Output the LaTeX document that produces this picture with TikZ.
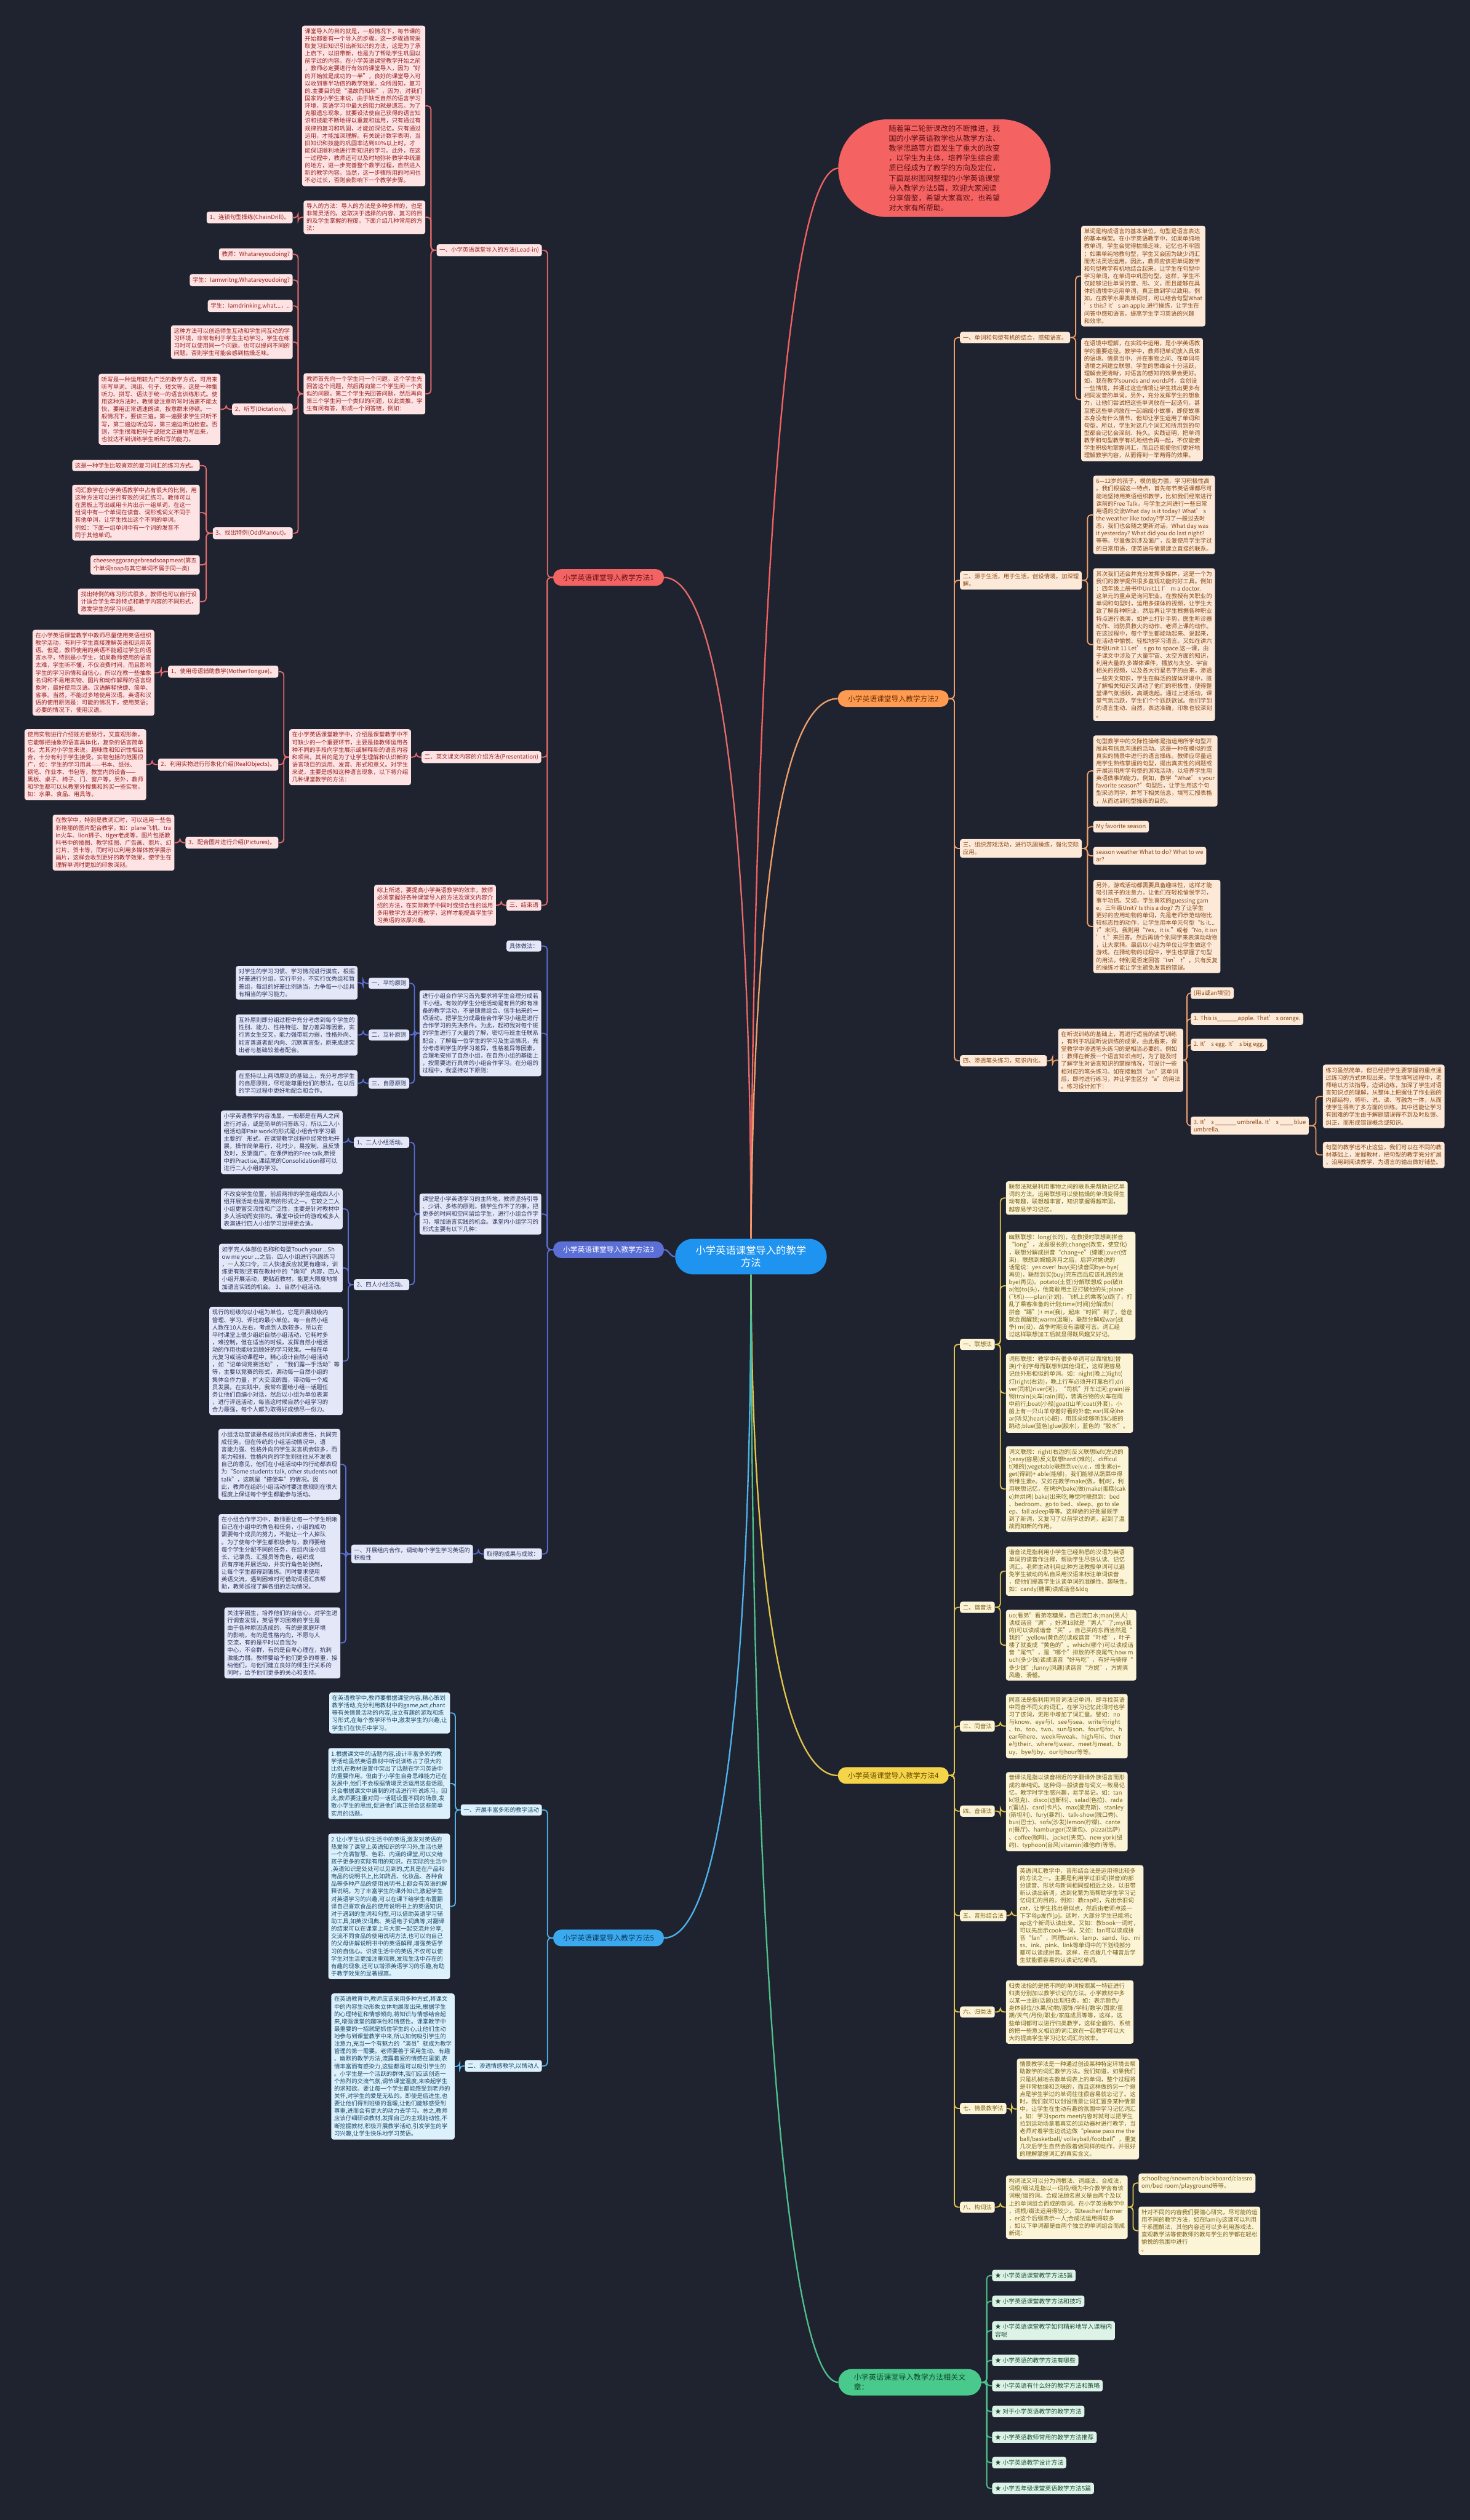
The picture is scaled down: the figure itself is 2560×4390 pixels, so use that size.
\documentclass[tikz,border=0pt]{standalone}
\usepackage{fontspec}
\setmainfont{Noto Sans CJK SC}
\usetikzlibrary{calc}
\definecolor{bg}{HTML}{1F2330}
\definecolor{redN}{HTML}{F26363}\definecolor{redT}{HTML}{6E1313}\definecolor{redL}{HTML}{FDE3E3}\definecolor{redLT}{HTML}{9A2222}\definecolor{redC}{HTML}{E66A6A}
\definecolor{bluN}{HTML}{5B6FD6}\definecolor{bluL}{HTML}{E3E7F7}\definecolor{bluLT}{HTML}{2E3560}\definecolor{bluC}{HTML}{5A6ED4}
\definecolor{cyaN}{HTML}{3AA9EE}\definecolor{cyaT}{HTML}{0E3A5E}\definecolor{cyaL}{HTML}{DCF1FB}\definecolor{cyaLT}{HTML}{1B4B6E}\definecolor{cyaC}{HTML}{4FB3EC}
\definecolor{oraN}{HTML}{FF9B50}\definecolor{oraT}{HTML}{6A2F05}\definecolor{oraL}{HTML}{FCE9D8}\definecolor{oraLT}{HTML}{8B4A17}\definecolor{oraC}{HTML}{EFA06A}
\definecolor{yelN}{HTML}{F6D44A}\definecolor{yelT}{HTML}{6A5200}\definecolor{yelL}{HTML}{FCF4D6}\definecolor{yelLT}{HTML}{7A6218}\definecolor{yelC}{HTML}{E2C54A}
\definecolor{grnN}{HTML}{49C98B}\definecolor{grnT}{HTML}{0F4A2D}\definecolor{grnL}{HTML}{DDF3E7}\definecolor{grnLT}{HTML}{1E4F37}\definecolor{grnC}{HTML}{4EC18B}
\definecolor{ctrN}{HTML}{1E93EF}\definecolor{introN}{HTML}{F46262}\definecolor{introT}{HTML}{5A1111}
\newcommand\fsA{\fontsize{10.1}{13}\selectfont}
\newcommand\fsG{\fontsize{10.6}{13}\selectfont}
\newcommand\fsM{\fontsize{12.6}{15.5}\selectfont}
\newcommand\fsN{\fontsize{13}{17}\selectfont}
\newcommand\fsI{\fontsize{12.9}{17.3}\selectfont}
\newcommand\fsC{\fontsize{17.5}{22}\selectfont}
\newcommand\blank[1]{\rule[-1pt]{#1pt}{0.5pt}}
\newcommand\lk[3]{\draw[#1] let \p1=(#2.west), \p2=(#3.east) in (\p1) -- ({(\x1+\x2)/2},\y1) |- (\p2);}
\newcommand\rk[3]{\draw[#1] let \p1=(#2.east), \p2=(#3.west) in (\p1) -- ({(\x1+\x2)/2},\y1) |- (\p2);}
\tikzset{
 leaf/.style={rounded corners=4pt, inner xsep=5pt, inner ysep=5pt, align=left, font=\fsA},
 rlf/.style={leaf, fill=redL, text=redLT},
 blf/.style={leaf, fill=bluL, text=bluLT},
 clf/.style={leaf, fill=cyaL, text=cyaLT},
 olf/.style={leaf, fill=oraL, text=oraLT},
 ylf/.style={leaf, fill=yelL, text=yelLT},
 glf/.style={leaf, fill=grnL, text=grnLT, font=\fsG},
 mainnode/.style={rounded corners=14pt, inner xsep=12pt, inner ysep=8pt, minimum width=193pt, minimum height=29pt, font=\fsM},
 rcn/.style={draw=redC, line width=2pt, rounded corners=6pt},
 bcn/.style={draw=bluC, line width=2pt, rounded corners=6pt},
 ccn/.style={draw=cyaC, line width=2pt, rounded corners=6pt},
 ocn/.style={draw=oraC, line width=2pt, rounded corners=6pt},
 ycn/.style={draw=yelC, line width=2pt, rounded corners=6pt},
 gcn/.style={draw=grnC, line width=2pt, rounded corners=6pt},
}
\begin{document}
\begin{tikzpicture}[x=1pt,y=-1pt]
\fill[bg] (0,0) rectangle (2560,4390);

% ---------- centre and main nodes ----------
\node[fill=ctrN, text=white, rounded corners=31pt, minimum width=264pt, minimum height=62pt, align=center, font=\fsC] (ctr) at (1308,2189) {小学英语课堂导入的教学\\方法};
\node[fill=introN, text=introT, rounded corners=85pt, minimum width=370pt, minimum height=170pt, align=left, font=\fsI] (intro) at (1645,293) {随着第二轮新课改的不断推进，我\\国的小学英语教学也从教学方法、\\教学思路等方面发生了重大的改变\\，以学生为主体，培养学生综合素\\质已经成为了教学的方向及定位，\\下面是树图网整理的小学英语课堂\\导入教学方法5篇，欢迎大家阅读\\分享借鉴，希望大家喜欢，也希望\\对大家有所帮助。};
\node[mainnode, fill=redN, text=redT] (R) at (1060,1006) {小学英语课堂导入教学方法1};
\node[mainnode, fill=bluN, text=white] (B) at (1060,2177) {小学英语课堂导入教学方法3};
\node[mainnode, fill=cyaN, text=cyaT] (C) at (1060,3376) {小学英语课堂导入教学方法5};
\node[mainnode, fill=oraN, text=oraT] (O) at (1556,1217) {小学英语课堂导入教学方法2};
\node[mainnode, fill=yelN, text=yelT] (Y) at (1556,3093) {小学英语课堂导入教学方法4};
\node[fill=grnN, text=grnT, rounded corners=23pt, minimum width=249pt, minimum height=46pt, inner xsep=24pt, align=left, font=\fsN, anchor=west] (G) at (1460,4150) {小学英语课堂导入教学方法相关文\\章：};

\draw[introN, line width=2.5pt] (intro.west) .. controls (1345,300) and (1310,1500) .. (ctr.north);
\draw[redC, line width=2.5pt] (R.east) .. controls (1260,1006) and (1308,1500) .. (ctr.north);
\draw[oraC, line width=2.5pt] (O.west) .. controls (1370,1217) and (1314,1500) .. (ctr.north);
\draw[bluC, line width=2.5pt] (B.east) .. controls (1166,2177) and (1166,2189) .. (ctr.west);
\draw[cyaC, line width=2.5pt] (ctr.south) .. controls (1308,2900) and (1260,3376) .. (C.east);
\draw[yelC, line width=2.5pt] (ctr.south) .. controls (1310,2800) and (1370,3093) .. (Y.west);
\draw[grnC, line width=2.5pt] (ctr.south) .. controls (1310,3500) and (1380,4150) .. (G.west);

% ---------- RED branch ----------
\node[rlf, anchor=east] (r1) at (944,436) {一、小学英语课堂导入的方法(Lead-in)};
\node[rlf, anchor=east] (r1a) at (741,184.5) {课堂导入的目的就是，一般情况下，每节课的\\开始都要有一个导入的步骤。这一步骤通常采\\取复习旧知识引出新知识的方法，这是为了承\\上启下，以旧带新，也是为了帮助学生巩固以\\前学过的内容。在小学英语课堂教学开始之前\\，教师必定要进行有效的课堂导入，因为“好\\的开始就是成功的一半”，良好的课堂导入可\\以收到事半功倍的教学效果。众所周知，复习\\的.主要目的是“温故而知新”，因为，对我们\\国家的小学生来说，由于缺乏自然的语言学习\\环境，英语学习中最大的阻力就是遗忘。为了\\克服遗忘现象，就要设法使自己获得的语言知\\识和技能不断地得以重复和运用，只有通过有\\规律的复习和巩固，才能加深记忆。只有通过\\运用，才能加深理解。有关统计数字表明，当\\旧知识和技能的巩固率达到80\%以上时，才\\能保证顺利地进行新知识的学习。此外，在这\\一过程中，教师还可以及时地弥补教学中疏漏\\的地方，进一步完善整个教学过程，自然进入\\新的教学内容。当然，这一步骤所用的时间也\\不必过长，否则会影响下一个教学步骤。};
\node[rlf, anchor=east] (r1b) at (741,378.5) {导入的方法：导入的方法是多种多样的，也是\\非常灵活的。这取决于选择的内容、复习的目\\的及学生掌握的程度。下面介绍几种常用的方\\法：};
\node[rlf, anchor=east] (r1c) at (741,686) {教师首先向一个学生问一个问题，这个学生先\\回答这个问题，然后再向第二个学生问一个类\\似的问题。第二个学生先回答问题，然后再向\\第三个学生问一个类似的问题，以此类推，学\\生有问有答，形成一个问答链，例如：};
\node[rlf, anchor=east] (r1b1) at (510,379) {1、连锁句型操练(ChainDrill)。};
\node[rlf, anchor=east] (r1c1) at (510,443) {教师：Whatareyoudoing?};
\node[rlf, anchor=east] (r1c2) at (510,488) {学生：Iamwritng.Whatareyoudoing?};
\node[rlf, anchor=east] (r1c3) at (510,533) {学生：Iamdrinking.what...，..};
\node[rlf, anchor=east] (r1c4) at (510,596) {这种方法可以创造师生互动和学生间互动的学\\习环境，非常有利于学生主动学习，学生在练\\习时可以使用同一个问题，也可以提问不同的\\问题。否则学生可能会感到枯燥乏味。};
\node[rlf, anchor=east] (r1c5) at (510,713) {2、听写(Dictation)。};
\node[rlf, anchor=east] (r1c5a) at (384,713) {听写是一种运用较为广泛的教学方式，可用来\\听写单词、词组、句子、短文等。这是一种集\\听力、拼写、语法于统一的语言训练形式。使\\用这种方法时，教师要注意听写时语速不能太\\快，要用正常语速朗读，按意群来停顿。一\\般情况下，要读三遍，第一遍要求学生只听不\\写，第二遍边听边写，第三遍边听边检查。否\\则，学生很难把句子或短文正确地写出来，\\也就达不到训练学生听和写的能力。};
\node[rlf, anchor=east] (r1c6) at (510,929) {3、找出特例(OddManout)。};
\node[rlf, anchor=east] (r1c6a) at (348,811) {这是一种学生比较喜欢的复习词汇的练习方式。};
\node[rlf, anchor=east] (r1c6b) at (348,893) {词汇教学在小学英语教学中占有很大的比例，用\\这种方法可以进行有效的词汇练习。教师可以\\在黑板上写出或用卡片出示一组单词，在这一\\组词中有一个单词在读音、词形或词义不同于\\其他单词，让学生找出这个不同的单词。\\例如：下面一组单词中有一个词的发音不\\同于其他单词。};
\node[rlf, anchor=east] (r1c6c) at (348,984) {cheeseeggorangebreadsoapmeat(第五\\个单词soap与其它单词不属于同一类)};
\node[rlf, anchor=east] (r1c6d) at (348,1048) {找出特例的练习形式很多，教师也可以自行设\\计适合学生年龄特点和教学内容的不同形式，\\激发学生的学习兴趣。};
\node[rlf, anchor=east] (r2) at (943,1319) {二、英文课文内容的介绍方法(Presentation)};
\node[rlf, anchor=east] (r2a) at (716,1319) {在小学英语课堂教学中，介绍是课堂教学中不\\可缺少的一个重要环节，主要是指教师运用各\\种不同的手段向学生展示或解释新的语言内容\\和项目。其目的是为了让学生理解和认识新的\\语言项目的运用、发音、形式和意义。对学生\\来说，主要是感知这种语言现象，以下将介绍\\几种课堂教学的方法：};
\node[rlf, anchor=east] (r2a1) at (485,1170) {1、使用母语辅助教学(MotherTongue)。};
\node[rlf, anchor=east] (r2a1a) at (269,1172) {在小学英语课堂教学中教师尽量使用英语组织\\教学活动，有利于学生直接理解英语和运用英\\语。但是，教师使用的英语不能超过学生的语\\言水平，特别是小学生，如果教师使用的语言\\太难，学生听不懂，不仅浪费时间，而且影响\\学生的学习热情和自信心。所以在教一些抽象\\名词和不易用实物、图片和动作解释的语言现\\象时，最好使用汉语。汉语解释快捷、简单、\\省事。当然，不能过多地使用汉语。英语和汉\\语的使用原则是：可能的情况下，使用英语；\\必要的情况下，使用汉语。};
\node[rlf, anchor=east] (r2a2) at (485,1332) {2、利用实物进行形象化介绍(RealObjects)。};
\node[rlf, anchor=east] (r2a2a) at (255,1332) {使用实物进行介绍既方便易行，又直观形象，\\它能够把抽象的语言具体化，复杂的语言简单\\化。尤其对小学生来说，趣味性和知识性相结\\合，十分有利于学生接受。实物包括的范围很\\广，如：学生的学习用具——书本、纸张、\\钢笔、作业本、书包等，教室内的设备——\\黑板、桌子、椅子、门、窗户等。另外，教师\\和学生都可以从教室外搜集和购买一些实物，\\如：水果、食品、用具等。};
\node[rlf, anchor=east] (r2a3) at (485,1468) {3、配合图片进行介绍(Pictures)。};
\node[rlf, anchor=east] (r2a3a) at (304,1468) {在教学中，特别是教词汇时，可以选用一些色\\彩艳丽的图片配合教学，如：plane飞机、tra\\in火车、lion狮子、tiger老虎等，图片包括教\\科书中的插图、教学挂图、广告画、照片、幻\\灯片、贺卡等，同时可以利用多媒体教学展示\\画片，这样会收到更好的教学效果，使学生在\\理解单词时更加的印象深刻。};
\node[rlf, anchor=east] (r3) at (943,1577) {三、结束语};
\node[rlf, anchor=east] (r3a) at (864,1577) {综上所述，要提高小学英语教学的效率，教师\\必须掌握好各种课堂导入的方法及课文内容介\\绍的方法，在实际教学中同时或综合性的运用\\多用教学方法进行教学，这样才能提高学生学\\习英语的浓厚兴趣。};

\lk{rcn}{R}{r1}\lk{rcn}{R}{r2}\lk{rcn}{R}{r3}
\lk{rcn}{r1}{r1a}\lk{rcn}{r1}{r1b}\lk{rcn}{r1}{r1c}
\lk{rcn}{r1b}{r1b1}
\lk{rcn}{r1c}{r1c1}\lk{rcn}{r1c}{r1c2}\lk{rcn}{r1c}{r1c3}\lk{rcn}{r1c}{r1c4}\lk{rcn}{r1c}{r1c5}\lk{rcn}{r1c}{r1c6}
\lk{rcn}{r1c5}{r1c5a}
\lk{rcn}{r1c6}{r1c6a}\lk{rcn}{r1c6}{r1c6b}\lk{rcn}{r1c6}{r1c6c}\lk{rcn}{r1c6}{r1c6d}
\lk{rcn}{r2}{r2a}
\lk{rcn}{r2a}{r2a1}\lk{rcn}{r2a}{r2a2}\lk{rcn}{r2a}{r2a3}
\lk{rcn}{r2a1}{r2a1a}\lk{rcn}{r2a2}{r2a2a}\lk{rcn}{r2a3}{r2a3a}
\lk{rcn}{r3}{r3a}

% ---------- BLUE branch ----------
\node[blf, anchor=east] (b1) at (943,1648) {具体做法：};
\node[blf, anchor=east] (b2) at (943,1800) {进行小组合作学习首先要求将学生合理分成若\\干小组。有效的学生分组活动是有目的和有准\\备的教学活动，不是随意组合、信手拈来的一\\项活动。把学生分成最佳合作学习小组是进行\\合作学习的先决条件。为此，起初我对每个班\\的学生进行了大量的了解，密切与班主任联系\\配合，了解每一位学生的学习及生活情况，充\\分考虑到学生的学习差异，性格差异等因素，\\合理地安排了自然小组，在自然小组的基础上\\，按需要进行具体的小组合作学习。在分组的\\过程中，我坚持以下原则：};
\node[blf, anchor=east] (b2a) at (713,1713) {一、平均原则};
\node[blf, anchor=east] (b2a1) at (623,1712) {对学生的学习习惯、学习情况进行摸底，根据\\好差进行分组，实行平分，不实行优秀组和暂\\差组，每组的好差比例适当，力争每一小组具\\有相当的学习能力。};
\node[blf, anchor=east] (b2b) at (713,1803) {二、互补原则};
\node[blf, anchor=east] (b2b1) at (623,1803) {互补原则即分组过程中充分考虑到每个学生的\\性别、能力、性格特征、智力差异等因素，实\\行男女生交叉，能力强带能力弱，性格外向、\\能言善道者配内向、沉默寡言型，原来成绩突\\出者与基础较差者配合。};
\node[blf, anchor=east] (b2c) at (713,1887) {三、自愿原则};
\node[blf, anchor=east] (b2c1) at (623,1887) {在坚持以上两项原则的基础上，充分考虑学生\\的自愿原则，尽可能尊重他们的想法，在以后\\的学习过程中更好地配合和合作。};
\node[blf, anchor=east] (b3) at (943,2115) {课堂是小学英语学习的主阵地，教师坚持引导\\、少讲、多练的原则，做学生作不了的事，把\\更多的时间和空间留给学生，进行小组合作学\\习，增加语言实践的机会。课堂内小组学习的\\形式主要有以下几种：};
\node[blf, anchor=east] (b3a) at (713,1990) {1、二人小组活动。};
\node[blf, anchor=east] (b3a1) at (597,1990) {小学英语教学内容浅显，一般都是在两人之间\\进行对话，或是简单的问答练习，所以二人小\\组活动即Pair work的形式是小组合作学习最\\主要的'形式，在课堂教学过程中经常性地开\\展，操作简单易行，花时少，易控制，且反馈\\及时，反馈面广。在课伊始的Free talk,新授\\中的Practise,课结尾的Consolidation都可以\\进行二人小组的学习。};
\node[blf, anchor=east] (b3b) at (713,2238) {2、四人小组活动。};
\node[blf, anchor=east] (b3b1) at (597,2106) {不改变学生位置，前后两排的学生组成四人小\\组开展活动也是常用的形式之一。它较之二人\\小组更富交流性和广泛性，主要是针对教材中\\多人活动而安排的。课堂中设计的游戏或多人\\表演进行四人小组学习显得更合适。};
\node[blf, anchor=east] (b3b2) at (597,2209) {如学完人体部位名称和句型Touch your ...Sh\\ow me your ...之后，四人小组进行巩固练习\\，一人发口令，三人快速反应就更有趣味，训\\练更有效!还有在教材中的“询问”内容，四人\\小组开展活动，更贴近教材，能更大限度地增\\加语言实践的机会。 3、自然小组活动。};
\node[blf, anchor=east] (b3b3) at (597,2371) {现行的班级均以小组为单位，它是开展班级内\\管理、学习、评比的最小单位。每一自然小组\\人数在10人左右，考虑到人数较多，所以在\\平时课堂上很少组织自然小组活动，它耗时多\\，难控制，但在适当的时候，发挥自然小组活\\动的作用也能收到顾好的学习效果。一般在单\\元复习或活动课程中，精心设计自然小组活动\\，如“记单词竞赛活动”，“我们露一手活动”等\\等，主要以竞赛的形式，调动每一自然小组的\\集体合作力量，扩大交流的面，带动每一个成\\员发展。在实践中，我常布置给小组一话题任\\务让他们自编小对话，然后以小组为单位表演\\，进行评选活动，每当这时候自然小组学习的\\合力最强，每个人都为取得好成绩尽一份力。};
\node[blf, anchor=east] (b4) at (944,2707) {取得的成果与成效：};
\node[blf, anchor=east] (b4a) at (824,2707) {一、开展组内合作，调动每个学生学习英语的\\积极性};
\node[blf, anchor=east] (b4a1) at (593,2551) {小组活动宣读是各成员共同承担责任，共同完\\成任务。但在传统的小组活动情况中，语\\言能力强、性格外向的学生发言机会较多，而\\能力较弱、性格内向的学生则往往从不发表\\自己的意见，他们在小组活动中的行动都表现\\为“Some students talk, other students not\\talk”，这就是“搭便车”的情况。因\\此，教师在组织小组活动时要注意规则在很大\\程度上保证每个学生都能参与活动。};
\node[blf, anchor=east] (b4a2) at (593,2706) {在小组合作学习中，教师要让每一个学生明晰\\自己在小组中的角色和任务，小组的成功\\需要每个成员的努力，不能让一个人掉队\\。为了使每个学生都积极参与，教师要给\\每个学生分配不同的任务，在组内设小组\\长、记录员、汇报员等角色，组织成\\员有序地开展活动，并实行角色轮换制，\\让每个学生都得到锻炼。同时要求使用\\英语交流，遇到困难时可借助词语汇表帮\\助，教师巡视了解各组的活动情况。};
\node[blf, anchor=east] (b4a3) at (593,2862) {关注学困生，培养他们的自信心。对学生进\\行调查发现，英语学习困难的学生是\\由于各种原因造成的，有的是家庭环境\\的影响，有的是性格内向，不愿与人\\交流，有的是平时以自我为\\中心，不合群，有的是自卑心理在，抗刺\\激能力弱。教师要给予他们更多的尊重，接\\纳他们，与他们建立良好的师生行关系的\\同时，给予他们更多的关心和支持。};

\lk{bcn}{B}{b1}\lk{bcn}{B}{b2}\lk{bcn}{B}{b3}\lk{bcn}{B}{b4}
\lk{bcn}{b2}{b2a}\lk{bcn}{b2}{b2b}\lk{bcn}{b2}{b2c}
\lk{bcn}{b2a}{b2a1}\lk{bcn}{b2b}{b2b1}\lk{bcn}{b2c}{b2c1}
\lk{bcn}{b3}{b3a}\lk{bcn}{b3}{b3b}
\lk{bcn}{b3a}{b3a1}
\lk{bcn}{b3b}{b3b1}\lk{bcn}{b3b}{b3b2}\lk{bcn}{b3b}{b3b3}
\lk{bcn}{b4}{b4a}
\lk{bcn}{b4a}{b4a1}\lk{bcn}{b4a}{b4a2}\lk{bcn}{b4a}{b4a3}

% ---------- CYAN branch ----------
\node[clf, anchor=east] (c1) at (944,3153) {一、开展丰富多彩的教学活动};
\node[clf, anchor=east] (c1a) at (784,2984) {在英语教学中,教师要根据课堂内容,精心策划\\教学活动,充分利用教材中的game,act,chant\\等有关情景活动的内容,设立有趣的游戏和练\\习形式,在每个教学环节中,激发学生的兴趣,让\\学生们在快乐中学习。};
\node[clf, anchor=east] (c1b) at (784,3107) {1.根据课文中的话题内容,设计丰富多彩的教\\学活动虽然英语教材中听说训练占了很大的\\比例,在教材设置中突出了话题在学习英语中\\的重要作用。但由于小学生自身思维能力还在\\发展中,他们不会根据情境灵活运用这些话题,\\只会根据课文中编制的对话进行听说练习。因\\此,教师要注重对同一话题设置不同的场景,发\\散小学生的思维,促进他们真正领会这些简单\\实用的话题。};
\node[clf, anchor=east] (c1c) at (784,3321) {2.让小学生认识生活中的英语,激发对英语的\\热爱除了课堂上英语知识的学习外,生活也是\\一个充满智慧、色彩、内涵的课堂,可以交给\\孩子更多的实际有用的知识。在实际的生活中\\,英语知识是处处可以见到的,尤其是在产品和\\商品的说明书上,比如药品、化妆品、各种食\\品等多种产品的使用说明书上都会有英语的解\\释说明。为了丰富学生的课外知识,激起学生\\对英语学习的兴趣,可以在课下给学生布置翻\\译自己喜欢食品的使用说明书上的英语知识,\\对于遇到的生词和句型,可以借助英语学习辅\\助工具,如英汉词典、英语电子词典等,对翻译\\的结果可以在课堂上与大家一起交流并分享,\\交流不同食品的使用说明方法,也可以向自己\\的父母讲解说明书中的英语解释,增强英语学\\习的自信心。识读生活中的英语,不仅可以使\\学生对生活更加注重观察,发现生活中存在的\\有趣的现象,还可以增添英语学习的乐趣,有助\\于教学效果的显著提高。};
\node[clf, anchor=east] (c2) at (944,3599) {二、渗透情感教学,以情动人};
\node[clf, anchor=east] (c2a) at (792,3600) {在英语教育中,教师应该采用多种方式,将课文\\中的内容生动形象立体地展现出来,根据学生\\的心理特征和情感倾向,将知识与情感结合起\\来,增强课堂的趣味性和情感性。课堂教学中\\最重要的一招就是抓住学生的心,让他们主动\\地参与到课堂教学中来,所以如何吸引学生的\\注意力,充当一个有魅力的“演员”就成为教学\\管理的第一需要。老师要善于采用生动、有趣\\、幽默的教学方法,流露着爱的情感在里面,表\\情丰富而有感染力,这些都是可以吸引学生的\\。小学生是一个活跃的群体,我们应该创造一\\个热烈的交流气氛,调节课堂温度,来唤起学生\\的求知欲。要让每一个学生都能感受到老师的\\关怀,对学生的爱是无私的。即使是后进生,也\\要让他们得到班级的温暖,让他们能够感受到\\尊重,进而会有更大的动力去学习。总之,教师\\应该仔细研读教材,发挥自己的主观能动性,不\\断挖掘教材,积极开展教学活动,引发学生的学\\习兴趣,让学生快乐地学习英语。};
\lk{ccn}{C}{c1}\lk{ccn}{C}{c2}
\lk{ccn}{c1}{c1a}\lk{ccn}{c1}{c1b}\lk{ccn}{c1}{c1c}
\lk{ccn}{c2}{c2a}

% ---------- ORANGE branch ----------
\node[olf, anchor=west] (o1) at (1672,588) {一、单词和句型有机的结合，感知语言。};
\node[olf, anchor=west] (o1a) at (1883,481) {单词是构成语言的基本单位，句型是语言表达\\的基本框架。在小学英语教学中，如果单纯地\\教单词，学生会觉得枯燥乏味，记忆也不牢固\\；如果单纯地教句型，学生又会因为缺少词汇\\而无法灵活运用。因此，教师应该把单词教学\\和句型教学有机地结合起来，让学生在句型中\\学习单词，在单词中巩固句型。这样，学生不\\仅能够记住单词的音、形、义，而且能够在具\\体的语境中运用单词，真正做到学以致用。例\\如，在教学水果类单词时，可以结合句型What\\’s this? It’s an apple.进行操练，让学生在\\问答中感知语言，提高学生学习英语的兴趣\\和效率。};
\node[olf, anchor=west] (o1b) at (1883,696) {在语境中理解，在实践中运用，是小学英语教\\学的重要途径。教学中，教师把单词放入具体\\的语境、情景当中，并在事物之间、在单词与\\语境之间建立联想，学生的思维会十分活跃，\\理解会更清晰，对语言的感知的效果会更好。\\如，我在教学sounds and words时，会创设\\一些情境，并通过这些情境让学生找出更多有\\相同发音的单词。另外，充分发挥学生的想象\\力，让他们尝试把这些单词放在一起造句，甚\\至把这些单词放在一起编成小故事，即使故事\\本身没有什么情节，但却让学生运用了单词和\\句型。所以，学生对这几个词汇和所用到的句\\型都会记忆会深刻、持久。实践证明，把单词\\教学和句型教学有机地结合再一起，不仅能使\\学生积极地掌握词汇，而且还能使他们更好地\\理解教学内容，从而得到一举两得的效果。};
\node[olf, anchor=west] (o2) at (1672,1011) {二、源于生活，用于生活，创设情境，加深理\\解。};
\node[olf, anchor=west] (o2a) at (1904,897) {6—12岁的孩子，模仿能力强，学习积极性高\\。我们根据这一特点，首先每节英语课都尽可\\能地坚持用英语组织教学，比如我们经常进行\\课前的Free Talk，与学生之间进行一些日常\\用语的交流What day is it today? What’ s\\the weather like today?学习了一般过去时\\态，我们也会随之更新对话，What day was\\it yesterday? What did you do last night?\\等等。尽量做到涉及面广，反复使用学生学过\\的日常用语，使英语与情景建立直接的联系。};
\node[olf, anchor=west] (o2b) at (1904,1123) {其次我们还会并充分发挥多媒体，这是一个为\\我们的教学提供很多直观功能的好工具。例如\\：四年级上册书中Unit11 I’ m a doctor.\\这单元的重点是询问职业。在教授有关职业的\\单词和句型时，运用多媒体的视频，让学生大\\致了解各种职业，然后再让学生根据各种职业\\特点进行表演，如护士打针手势，医生听诊器\\动作、消防员救火的动作、老师上课的动作。\\在这过程中，每个学生都能动起来、说起来，\\在活动中愉悦、轻松地学习语言。又如在讲六\\年级Unit 11 Let’ s go to space.这一课，由\\于课文中涉及了大量宇宙、太空方面的知识，\\利用大量的.多媒体课件，播放与太空、宇宙\\相关的视频，以及各大行星名字的由来，渗透\\一些天文知识，学生在鲜活的媒体环境中，既\\了解相关知识又调动了他们的积极性，使得整\\堂课气氛活跃，高潮迭起。通过上述活动，课\\堂气氛活跃，学生们个个跃跃欲试。他们学到\\的语言生动、自然，表达准确，印象也较深刻\\。};
\node[olf, anchor=west] (o3) at (1672,1478) {三、组织游戏活动，进行巩固操练，强化交际\\应用。};
\node[olf, anchor=west] (o3a) at (1904,1343) {句型教学中的交际性操练是指运用所学句型开\\展具有信息沟通的活动。这是一种在模拟的或\\真实的情景中进行的语言操练。教师应尽量运\\用学生熟练掌握的句型，提出真实性的问题或\\开展运用所学句型的游戏活动，以培养学生用\\英语做事的能力。例如，教学“What’ s your\\favorite season?”句型后，让学生用这个句\\型采访同学，并写下相关信息，填写汇报表格\\，从而达到句型操练的目的。};
\node[olf, anchor=west] (o3b) at (1904,1440) {My favorite season};
\node[olf, anchor=west] (o3c) at (1904,1491) {season weather What to do? What to we\\ar?};
\node[olf, anchor=west] (o3d) at (1904,1614) {另外，游戏活动都需要具备趣味性，这样才能\\吸引孩子的注意力，让他们在轻松愉悦学习，\\事半功倍。又如，学生喜欢的guessing gam\\e。三年级Unit7 Is this a dog? 为了让学生\\更好的应用动物的单词，先是老师示范动物比\\较标志性的动作，让学生用本单元句型“Is it...\\?”来问。我则用“Yes，it is.”或者“No, it isn\\’ t.”来回答。然后再请个别同学来表演动动物\\，让大家猜。最后以小组为单位让学生做这个\\游戏。在猜动物的过程中，学生也掌握了句型\\的用法。特别是否定回答“isn’ t”，只有反复\\的操练才能让学生避免发音的错误。};
\node[olf, anchor=west] (o4) at (1672,1848) {四、渗透笔头练习，知识内化。};
\node[olf, anchor=west] (o4a) at (1843,1847) {在听说训练的基础上，再进行适当的读写训练\\，有利于巩固听说训练的成果，由此看来，课\\堂教学中渗透笔头练习的是相当必要的。例如\\：教师在新授一个语言知识点时，为了能及时\\了解学生对语言知识的掌握情况，可设计一些\\相对应的笔头练习。如在接触到“an”这单词\\后，即时进行练习，并让学生区分“a”的用法\\。练习设计如下：};
\node[olf, anchor=west] (o4a1) at (2074,1730) {(用a或an填空)};
\node[olf, anchor=west] (o4a2) at (2074,1775) {1. This is\blank{36}apple. That’ s orange.};
\node[olf, anchor=west] (o4a3) at (2074,1820) {2. It’ s egg. It’ s big egg.};
\node[olf, anchor=west] (o4a4) at (2074,1961) {3. It’ s \blank{36} umbrella. It’ s \blank{22} blue\\umbrella.};
\node[olf, anchor=west] (o4a4a) at (2304,1910) {练习虽然简单，但已经把学生要掌握的重点通\\过练习的方式体现出来。学生填写过程中，老\\师给以方法指导，边讲边练，加深了学生对语\\言知识点的理解，从整体上把握住了作业题的\\内部结构，将听、说、读、写融为一体，从而\\使学生得到了多方面的训练。其中还能让学习\\有困难的学生由于解题错误得不到及时反馈、\\纠正，而形成错误概念或知识。};
\node[olf, anchor=west] (o4a4b) at (2304,2012) {句型的教学远不止这些，我们可以在不同的教\\材基础上，发掘教材，把句型的教学充分扩展\\，沿用到阅读教学，为语言的输出做好铺垫。};
\rk{ocn}{O}{o1}\rk{ocn}{O}{o2}\rk{ocn}{O}{o3}\rk{ocn}{O}{o4}
\rk{ocn}{o1}{o1a}\rk{ocn}{o1}{o1b}
\rk{ocn}{o2}{o2a}\rk{ocn}{o2}{o2b}
\rk{ocn}{o3}{o3a}\rk{ocn}{o3}{o3b}\rk{ocn}{o3}{o3c}\rk{ocn}{o3}{o3d}
\rk{ocn}{o4}{o4a}
\rk{ocn}{o4a}{o4a1}\rk{ocn}{o4a}{o4a2}\rk{ocn}{o4a}{o4a3}\rk{ocn}{o4a}{o4a4}
\rk{ocn}{o4a4}{o4a4a}\rk{ocn}{o4a4}{o4a4b}

% ---------- YELLOW branch ----------
\node[ylf, anchor=west] (y1) at (1672,2342) {一、联想法};
\node[ylf, anchor=west] (y1a) at (1752,2087) {联想法就是利用事物之间的联系来帮助记忆单\\词的方法。运用联想可以使枯燥的单词变得生\\动有趣，联想越丰富，知识掌握得越牢固，\\越容易学习记忆。};
\node[ylf, anchor=west] (y1b) at (1752,2240) {幽默联想：long(长的)，在教授时联想到拼音\\“long”，龙是很长的;change(改变，使变化)\\，联想分解成拼音“chang+e”(嫦娥);over(结\\束)，联想到嫦娥奔月之后，后羿对她说的\\话是说：yes over! buy(买)读音同bye-bye(\\再见)，联想到买(buy)完东西后应该礼貌的说\\bye(再见)。potato(土豆)分解联想成 po(破)t\\a(他)to(头)，他竟敢用土豆打破他的头;plane\\(飞机)——plan(计划)，飞机上的乘客(e)跑了，打\\乱了乘客准备的计划;time(时间)分解成ti(\\拼音“踢”)+ me(我)，起床“时间”到了，爸爸\\就会踢醒我;warm(温暖)，联想分解成war(战\\争) m(没)，战争时期没有温暖可言。词汇经\\过这样联想加工后就显得既风趣又好记。};
\node[ylf, anchor=west] (y1c) at (1752,2427) {词形联想：教学中有很多单词可以靠增加(替\\换)个别字母而联想到其他词汇，这样更容易\\记住外形相似的单词。如：night(晚上)light(\\灯)right(右边)，晚上行车必须开灯靠右行;dri\\ver(司机)river(河)，“司机”开车过河;grain(谷\\物)train(火车)rain(雨)，装满谷物的火车在雨\\中前行;boat(小船)goat(山羊)coat(外套)，小\\船上有一只山羊穿着好看的外套; ear(耳朵)he\\ar(听见)heart(心脏)，用耳朵能够听到心脏的\\跳动;blue(蓝色)glue(胶水)，蓝色的“胶水”。};
\node[ylf, anchor=west] (y1d) at (1752,2594) {词义联想：right(右边的)反义联想left(左边的\\);easy(容易)反义联想hard (难的)、difficul\\t(难的);vegetable联想到ve(v.e.，维生素e)+\\get(得到)+ able(能够)，我们能够从蔬菜中得\\到维生素e。又如在教学make(做，制)时，利\\用联想记忆，在烤炉(bake)做(make)蛋糕(cak\\e)并烘烤( bake)出来吃;睡觉时联想到：bed\\、bedroom、go to bed、sleep、go to sle\\ep、fall asleep等等。这样做的好处是既学\\到了新词，又复习了以前学过的词，起到了温\\故而知新的作用。};
\node[ylf, anchor=west] (y2) at (1672,2800) {二、谐音法};
\node[ylf, anchor=west] (y2a) at (1752,2737) {谐音法是指利用小学生已经熟悉的汉语为英语\\单词的读音作注释，帮助学生尽快认读、记忆\\词汇。老师主动利用此种方法教授单词可以避\\免学生被动的私自采用汉语来标注单词读音\\，使他们提高学生认读单词的准确性、趣味性。\\如：candy(糖果)读成谐音\&ldq};
\node[ylf, anchor=west] (y2b) at (1752,2866) {uo;看弟”看弟吃糖果，自己流口水;man(男人)\\读成谐音“满”，好满18就是“男人”了;my(我\\的)可以读成谐音“买”，自己买的东西当然是“\\我的”;yellow(黄色的)读成谐音“叶楼”，叶子\\楼了就变成“黄色的”。which(哪个)可以读成谐\\音“尾气”，是“哪个”排放的不良尾气;how m\\uch(多少钱)读成谐音“好马吃”，有好马骑得“\\多少钱”;funny(风趣)读谐音“方妮”，方妮真\\风趣、滑稽。};
\node[ylf, anchor=west] (y3) at (1672,3007) {三、同音法};
\node[ylf, anchor=west] (y3a) at (1752,3007) {同音法是指利用同音词法记单词，即寻找英语\\中同音不同义的词汇，在学习记忆此词时也学\\习了该词，无形中增加了词汇量。譬如：no\\与know、eye与I、see与sea、write与right\\、to、too、two、sun与son、four与for、h\\ear与here、week与weak、high与hi、ther\\e与their、where与wear、meet与meat、b\\uy、bye与by、our与hour等等。};
\node[ylf, anchor=west] (y4) at (1672,3155) {四、音译法};
\node[ylf, anchor=west] (y4a) at (1752,3156) {音译法是指以读音相近的字翻译外族语言而形\\成的单纯词。这种词一般读音与词义一致易记\\忆，教学时学生感兴趣，易学易记。如：tan\\k(坦克)、disco(迪斯科)、salad(色拉)、rada\\r(雷达)、card(卡片)、max(麦克斯)、stanley\\(斯坦利)、fury(暴烈)、talk-show(脱口秀)、\\bus(巴士)、sofa(沙发)lemon(柠檬)、cante\\n(餐厅)、hamburger(汉堡包)、pizza(比萨)\\、coffee(咖啡)、jacket(夹克)、new york(纽\\约)、typhoon(台风)vitamin(维他命)等等。};
\node[ylf, anchor=west] (y5) at (1672,3337) {五、音形结合法};
\node[ylf, anchor=west] (y5a) at (1771,3337) {英语词汇教学中，音形结合法是运用得比较多\\的方法之一。主要是利用学过旧词(拼音)的部\\分读音、形状与新词相同或相近之处，以旧带\\新认读出新词，达到化繁为简帮助学生学习记\\忆词汇的目的。例如：教cap时，先出示旧词\\cat，让学生找出相似点，然后由老师点拨一\\下字母p发作[p]。这时，大部分学生已能将c\\ap这个新词认读出来。又如：教book一词时，\\可以先出示cook一词，又如：fan可以读成拼\\音“fan”，同理bank、lamp、sand、lip、mi\\ss、ink、pink、link等单词中的下划线部分\\都可以读成拼音。这样，在点拨几个辅音后学\\生就能很容易的认读记忆单词。};
\node[ylf, anchor=west] (y6) at (1672,3505) {六、归类法};
\node[ylf, anchor=west] (y6a) at (1752,3505) {归类法指的是把不同的单词按照某一特征进行\\归类分别加以教学识记的方法。小学教材中多\\以某一主题(话题)出现归类，如：表示颜色/\\身体部位/水果/动物/服饰/学科/数字/国家/星\\期/天气/月份/职业/家庭成员等等，这样，这\\些单词都可以进行归类教学，这样全面的、系统\\的把一些意义相近的词汇放在一起教学可以大\\大的提高学生学习记忆词汇的效率。};
\node[ylf, anchor=west] (y7) at (1672,3673) {七、情景教学法};
\node[ylf, anchor=west] (y7a) at (1771,3674) {情景教学法是一种通过创设某种特定环境去帮\\助教学的词汇教学方法。我们知道，如果我们\\只是机械地去教单词表上的单词，整个过程将\\是非常枯燥和乏味的，而且这样做的另一个弱\\点是学生学过的单词往往很容易就忘记了。这\\时，我们就可以创设情景让词汇置身某种情景\\中，让学生在生动有趣的氛围中学习记忆词汇\\。如：学习sports meet内容时就可以把学生\\拉到运动场拿着真实的运动器材进行教学，当\\老师对着学生边说边做“please pass me the\\ball/basketball/ volleyball/football”，重复\\几次后学生自然会跟着做同样的动作，并很好\\的理解掌握词汇的真实含义。};
\node[ylf, anchor=west] (y8) at (1672,3845) {八、构词法};
\node[ylf, anchor=west] (y8a) at (1752,3845) {构词法又可以分为词根法、词缀法、合成法，\\词根/缀法是指以一词根/缀为中介教学含有该\\词根/缀的词。合成法顾名思义是由两个及以\\上的单词组合而成的新词。在小学英语教学中\\，词根/缀法运用得较少，如teacher/ farmer\\，er这个后缀表示一人;合成法运用得较多\\，如以下单词都是由两个独立的单词组合而成\\新词：};
\node[ylf, anchor=west] (y8a1) at (1983,3803) {schoolbag/snowman/blackboard/classro\\om/bed room/playground等等。};
\node[ylf, anchor=west] (y8a2) at (1983,3886) {针对不同的内容我们要潜心研究，尽可能的运\\用不同的教学方法，如在family这课可以利用\\干系图解法，其他内容还可以多利用游戏法、\\直观教学法等使教师的教与学生的学都在轻松\\愉悦的氛围中进行\\。};
\rk{ycn}{Y}{y1}\rk{ycn}{Y}{y2}\rk{ycn}{Y}{y3}\rk{ycn}{Y}{y4}\rk{ycn}{Y}{y5}\rk{ycn}{Y}{y6}\rk{ycn}{Y}{y7}\rk{ycn}{Y}{y8}
\rk{ycn}{y1}{y1a}\rk{ycn}{y1}{y1b}\rk{ycn}{y1}{y1c}\rk{ycn}{y1}{y1d}
\rk{ycn}{y2}{y2a}\rk{ycn}{y2}{y2b}
\rk{ycn}{y3}{y3a}\rk{ycn}{y4}{y4a}\rk{ycn}{y5}{y5a}\rk{ycn}{y6}{y6a}\rk{ycn}{y7}{y7a}
\rk{ycn}{y8}{y8a}\rk{ycn}{y8a}{y8a1}\rk{ycn}{y8a}{y8a2}

% ---------- GREEN branch ----------
\node[glf, anchor=west] (g1) at (1728,3964) {★ 小学英语课堂教学方法5篇};
\node[glf, anchor=west] (g2) at (1728,4009) {★ 小学英语课堂教学方法和技巧};
\node[glf, anchor=west] (g3) at (1728,4060) {★ 小学英语课堂教学如何精彩地导入课程内\\容呢};
\node[glf, anchor=west] (g4) at (1728,4112) {★ 小学英语的教学方法有哪些};
\node[glf, anchor=west] (g5) at (1728,4156) {★ 小学英语有什么好的教学方法和策略};
\node[glf, anchor=west] (g6) at (1728,4201) {★ 对于小学英语教学的教学方法};
\node[glf, anchor=west] (g7) at (1728,4246) {★ 小学英语教师常用的教学方法推荐};
\node[glf, anchor=west] (g8) at (1728,4290) {★ 小学英语教学设计方法};
\node[glf, anchor=west] (g9) at (1728,4335) {★ 小学五年级课堂英语教学方法5篇};
\rk{gcn}{G}{g1}\rk{gcn}{G}{g2}\rk{gcn}{G}{g3}\rk{gcn}{G}{g4}\rk{gcn}{G}{g5}\rk{gcn}{G}{g6}\rk{gcn}{G}{g7}\rk{gcn}{G}{g8}\rk{gcn}{G}{g9}
\end{tikzpicture}
\end{document}
